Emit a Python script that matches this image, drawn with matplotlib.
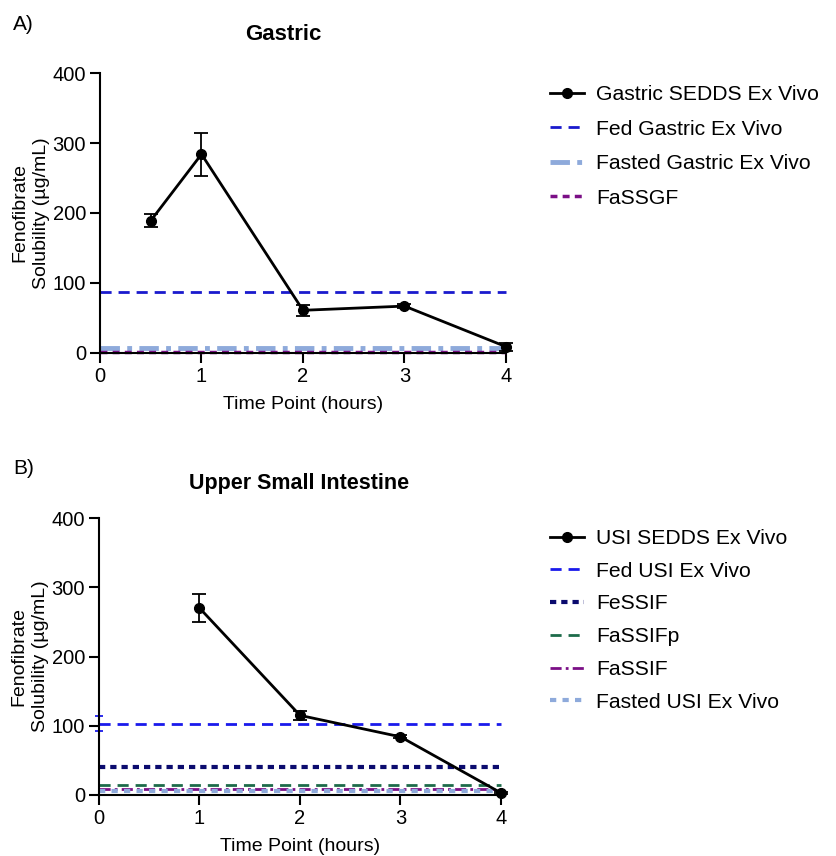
import matplotlib
matplotlib.use("Agg")
import matplotlib.pyplot as plt
from matplotlib.lines import Line2D

plt.rcParams['font.family'] = ['Liberation Sans', 'DejaVu Sans']

# Panel A (Gastric)
gastric_time = [0.5, 1, 2, 3, 4]
gastric_sedds = [189, 284, 61, 67, 9]
gastric_err = [9, 31, 8, 3, 6]
fed_gastric = 87
fasted_gastric = 7
fassgf = 1

# Panel B (Upper Small Intestine)
usi_time = [1, 2, 3, 4]
usi_sedds = [270, 115, 84, 3]
usi_err = [20, 7, 2, 1]
fed_usi = 103
fed_usi_err = 11
fessif = 40
fassifp = 15
fassif = 8
fasted_usi = 6

W, H = 837, 856
fig = plt.figure(figsize=(W / 100, H / 100), dpi=100)

def make_ax(l, r, t, b):
    return fig.add_axes([l / W, 1 - b / H, (r - l) / W, (b - t) / H])

ax1 = make_ax(100, 506, 73, 353)
ax2 = make_ax(99, 501, 518, 795)

def style(ax):
    ax.set_xlim(0, 4)
    ax.set_ylim(0, 400)
    ax.set_xticks([0, 1, 2, 3, 4])
    ax.set_yticks([0, 100, 200, 300, 400])
    for s in ['top', 'right']:
        ax.spines[s].set_visible(False)
    for s in ['left', 'bottom']:
        ax.spines[s].set_linewidth(1.5)
    ax.tick_params(direction='out', length=7, width=1.5, labelsize=14.5, pad=3)
    ax.set_xlabel('Time Point (hours)', fontsize=14, labelpad=7)
    ax.set_ylabel('Fenofibrate\nSolubility (\u00b5g/mL)', fontsize=14, labelpad=2, linespacing=1.35)

sedds_style = dict(color='black', lw=2, marker='o', ms=7)

# Panel A
xs = [0, 4]
ax1.plot(xs, [fed_gastric] * 2, color='#1a1acd', lw=2, ls=(0, (4, 2.5)), label='Fed Gastric Ex Vivo', clip_on=False)
ax1.plot(xs, [fasted_gastric] * 2, color='#8eaadb', lw=3.5, ls=(0, (4, 1.5, 1, 1.5)), label='Fasted Gastric Ex Vivo', clip_on=False)
ax1.plot(xs, [fassgf] * 2, color='#7b0f86', lw=2.5, ls=(0, (2, 1.5)), label='FaSSGF', clip_on=False)
ax1.errorbar(gastric_time, gastric_sedds, yerr=gastric_err, capsize=5, elinewidth=1.3, capthick=1.3,
             clip_on=False, zorder=5, **sedds_style)
style(ax1)
h, l = ax1.get_legend_handles_labels()
ax1.legend([Line2D([], [], **sedds_style)] + h, ['Gastric SEDDS Ex Vivo'] + l, loc='upper left',
           bbox_to_anchor=(531 / W, 1 - 66 / H), bbox_transform=fig.transFigure, frameon=False,
           fontsize=15.2, handlelength=1.6, labelspacing=0.74, handletextpad=0.6)

# Panel B
ax2.errorbar([0], [fed_usi], yerr=[fed_usi_err], color='#1a1aeb', lw=0, capsize=3, elinewidth=1.3, capthick=1.3, clip_on=False)
ax2.plot(xs, [fed_usi] * 2, color='#1a1aeb', lw=2, ls=(0, (4, 2.5)), label='Fed USI Ex Vivo', clip_on=False)
ax2.plot(xs, [fessif] * 2, color='#0b0b6e', lw=3, ls=(0, (1.5, 1.2)), label='FeSSIF', clip_on=False)
ax2.plot(xs, [fassifp] * 2, color='#1d6b4a', lw=2, ls=(0, (4, 2.5)), label='FaSSIFp', clip_on=False)
ax2.plot(xs, [fassif] * 2, color='#7b0f86', lw=2, ls=(0, (4, 1.5, 1, 1.5)), label='FaSSIF', clip_on=False)
ax2.plot(xs, [fasted_usi] * 2, color='#8eaadb', lw=3, ls=(0, (1.5, 1.5)), label='Fasted USI Ex Vivo', clip_on=False)
ax2.errorbar(usi_time, usi_sedds, yerr=usi_err, capsize=5, elinewidth=1.3, capthick=1.3,
             clip_on=False, zorder=5, **sedds_style)
style(ax2)
h, l = ax2.get_legend_handles_labels()
ax2.legend([Line2D([], [], **sedds_style)] + h, ['USI SEDDS Ex Vivo'] + l, loc='upper left',
           bbox_to_anchor=(531 / W, 1 - 510 / H), bbox_transform=fig.transFigure, frameon=False,
           fontsize=15.2, handlelength=1.6, labelspacing=0.65, handletextpad=0.6)

fig.text(283 / W, 1 - 35 / H, 'Gastric', fontsize=16, fontweight='bold', ha='center', va='center')
fig.text(299 / W, 1 - 483 / H, 'Upper Small Intestine', fontsize=15.5, fontweight='bold', ha='center', va='center')
fig.text(13 / W, 1 - 24 / H, 'A)', fontsize=15, va='center', ha='left')
fig.text(13 / W, 1 - 469 / H, 'B)', fontsize=15, va='center', ha='left')

fig.savefig('out.png', dpi=100, facecolor='white')
